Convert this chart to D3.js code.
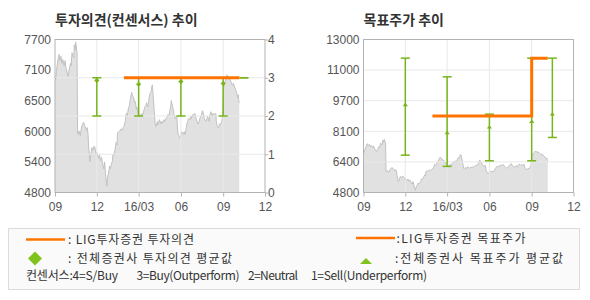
<!DOCTYPE html>
<html>
<head>
<meta charset="utf-8">
<script src="https://cdn.jsdelivr.net/npm/d3@7"></script>
<style>
  body { margin: 0; background: #fff; }
  svg text { font-family: "Liberation Sans", Arial, sans-serif; }
  .kr { font-family: "Noto Sans CJK KR", sans-serif; }
</style>
</head>
<body>
<div id="chart"></div>
<script>
// daily-ish close price
const price = [
  ["2015-09-01",6980],["2015-09-03",6950],["2015-09-04",7100],["2015-09-08",7350],["2015-09-10",7420],
  ["2015-09-11",7300],["2015-09-14",7380],["2015-09-16",7250],["2015-09-18",7320],["2015-09-21",7200],
  ["2015-09-23",7300],["2015-09-25",7150],["2015-09-28",7050],["2015-09-30",7000],["2015-10-01",7100],
  ["2015-10-05",7250],["2015-10-06",7200],["2015-10-08",7450],["2015-10-12",7350],["2015-10-13",7600],
  ["2015-10-15",7500],["2015-10-16",7650],["2015-10-19",7450],["2015-10-20",5980],["2015-10-21",5900],
  ["2015-10-23",5970],["2015-10-26",5880],["2015-10-28",6000],["2015-10-30",6080],["2015-11-02",6130],
  ["2015-11-04",6100],["2015-11-05",6050],["2015-11-09",5980],["2015-11-10",6030],["2015-11-12",5900],
  ["2015-11-13",5700],["2015-11-16",5380],["2015-11-18",5500],["2015-11-20",5650],["2015-11-23",5600],
  ["2015-11-25",5680],["2015-11-27",5650],["2015-11-30",5500],["2015-12-01",5560],["2015-12-03",5480],
  ["2015-12-04",5450],["2015-12-07",5520],["2015-12-09",5400],["2015-12-11",5470],["2015-12-14",5330],
  ["2015-12-16",5250],["2015-12-18",5380],["2015-12-20",5150],["2015-12-22",5000],["2015-12-23",4920],
  ["2015-12-24",5050],["2015-12-26",5150],["2015-12-29",5300],["2015-12-30",5250],["2016-01-04",5400],
  ["2016-01-05",5520],["2016-01-07",5500],["2016-01-11",5680],["2016-01-12",5750],["2016-01-14",5700],
  ["2016-01-15",5930],["2016-01-18",5950],["2016-01-20",5970],["2016-01-22",6000],["2016-01-25",5980],
  ["2016-01-27",6030],["2016-01-29",6050],["2016-02-01",6150],["2016-02-03",6300],["2016-02-05",6250],
  ["2016-02-08",6400],["2016-02-10",6450],["2016-02-12",6580],["2016-02-15",6700],["2016-02-16",6650],
  ["2016-02-18",6620],["2016-02-22",6500],["2016-02-23",6520],["2016-02-25",6380],["2016-02-26",6420],
  ["2016-03-01",6250],["2016-03-02",6230],["2016-03-04",6280],["2016-03-07",6250],["2016-03-08",6300],
  ["2016-03-10",6280],["2016-03-14",6400],["2016-03-15",6430],["2016-03-17",6450],["2016-03-18",6500],
  ["2016-03-21",6420],["2016-03-23",6550],["2016-03-25",6660],["2016-03-28",6700],["2016-03-30",6820],
  ["2016-03-31",6840],["2016-04-01",6700],["2016-04-04",6350],["2016-04-06",6100],["2016-04-08",6050],
  ["2016-04-11",6150],["2016-04-12",6080],["2016-04-14",6120],["2016-04-15",6180],["2016-04-19",6100],
  ["2016-04-21",6150],["2016-04-22",6120],["2016-04-25",6180],["2016-04-27",6150],["2016-04-29",6200],
  ["2016-05-02",6230],["2016-05-04",6280],["2016-05-06",6250],["2016-05-09",6400],["2016-05-10",6450],
  ["2016-05-11",6540],["2016-05-12",6500],["2016-05-16",6350],["2016-05-17",6280],["2016-05-19",6250],
  ["2016-05-20",6200],["2016-05-23",6250],["2016-05-25",5950],["2016-05-27",5880],["2016-05-30",5830],
  ["2016-06-01",5900],["2016-06-03",5950],["2016-06-07",5900],["2016-06-08",5950],["2016-06-10",5900],
  ["2016-06-13",6050],["2016-06-14",6100],["2016-06-16",6150],["2016-06-17",6200],["2016-06-21",6180],
  ["2016-06-23",6250],["2016-06-24",6200],["2016-06-27",6280],["2016-06-29",6250],["2016-07-01",6300],
  ["2016-07-04",6200],["2016-07-06",6150],["2016-07-08",6100],["2016-07-11",6150],["2016-07-12",6200],
  ["2016-07-15",6250],["2016-07-18",6350],["2016-07-19",6330],["2016-07-21",6250],["2016-07-22",6200],
  ["2016-07-25",6150],["2016-07-28",6200],["2016-07-29",6250],["2016-08-01",6150],["2016-08-03",6250],
  ["2016-08-05",6330],["2016-08-08",6250],["2016-08-10",6300],["2016-08-12",6270],["2016-08-16",6300],
  ["2016-08-17",6150],["2016-08-19",6050],["2016-08-22",6020],["2016-08-24",6100],["2016-08-26",6080],
  ["2016-08-29",6150],["2016-08-30",6200],["2016-09-01",6500],["2016-09-02",6800],["2016-09-05",6900],
  ["2016-09-07",6950],["2016-09-09",7030],["2016-09-12",6950],["2016-09-13",7000],["2016-09-19",6880],
  ["2016-09-20",6850],["2016-09-22",6830],["2016-09-23",6870],["2016-09-26",6800],["2016-09-28",6750],
  ["2016-09-30",6700],["2016-10-03",6600],["2016-10-04",6650],["2016-10-05",6540],["2016-10-06",6500]
];

// consensus (all brokers) range + average
const consDates = ["2015-12-01","2016-03-01","2016-06-01","2016-09-01","2016-10-16"];
const opinionMin = [2, 2, 2, 2, 3];
const opinionMax = [3, 3, 3, 3, 3];
const opinionAvg = [2.93, 2.83, 2.9, 2.85, null];
const targetMin = [6800, 6200, 6500, 6500, 7750];
const targetMax = [12000, 11000, 9000, 12000, 12000];
const targetAvg = [9500, 8000, 8300, 8600, 9000];

// LIG
const ligOpinion = [["2016-01-29", 3], ["2016-10-06", 3]];
const ligTarget = [["2016-01-29", 8900], ["2016-09-01", 12000], ["2016-10-06", 12000]];

const xTickDates = ["2015-09-01","2015-12-01","2016-03-01","2016-06-01","2016-09-01","2016-12-01"];
const xTickLabels = ["09","12","16/03","06","09","12"];
const leftPriceLabels = ["4800","5400","6000","6500","7100","7700"];
const rightPriceLabels = ["4800","6400","8100","9700","11000","13000"];
const opinionTicks = [0, 1, 2, 3, 4];

const W = 590, H = 300;
const plotTop = 39.5, plotBottom = 192.5;
const parse = d3.timeParse("%Y-%m-%d");
const ORANGE = "#ff7400", GREEN = "#78b41a", GRID = "#e9e9e9", FRAME = "#b3b3b3";

const svg = d3.select("#chart").append("svg").attr("width", W).attr("height", H);

function panel(opt) {
  const g = svg.append("g");
  const x = d3.scaleTime()
    .domain([parse(xTickDates[0]), parse(xTickDates[xTickDates.length - 1])])
    .range([opt.x0, opt.x1]);
  const y = d3.scaleLinear().domain(opt.domain).range([plotBottom, plotTop]);
  const [lo, hi] = opt.domain;
  const yTicks = opt.labels.map((d, i) => lo + i * (hi - lo) / (opt.labels.length - 1));
  const gridY = opt.gridScale || y;
  const gridVals = opt.gridScale ? opt.hGrid : yTicks.slice(1, -1);

  // title
  g.append("text").attr("class", "kr")
    .attr("x", opt.x0).attr("y", 25)
    .attr("font-size", 14).attr("font-weight", "bold").attr("fill", "#333")
    .text(opt.title);

  // price area
  g.append("path").datum(price)
    .attr("fill", "#e1e1e1")
    .attr("d", d3.area().x(d => x(parse(d[0]))).y0(plotBottom).y1(d => y(d[1])));
  g.append("path").datum(price)
    .attr("fill", "none").attr("stroke", "#c2c2c2").attr("stroke-width", 1)
    .attr("d", d3.line().x(d => x(parse(d[0]))).y(d => y(d[1])));

  // grid
  g.selectAll(".vg").data(xTickDates.slice(1, -1)).join("line")
    .attr("x1", d => x(parse(d))).attr("x2", d => x(parse(d)))
    .attr("y1", plotTop).attr("y2", plotBottom)
    .attr("stroke", GRID).attr("stroke-width", 1);
  g.selectAll(".hg").data(gridVals).join("line")
    .attr("x1", opt.x0).attr("x2", opt.x1)
    .attr("y1", d => gridY(d)).attr("y2", d => gridY(d))
    .attr("stroke", GRID).attr("stroke-width", 1);

  // frame
  g.append("rect")
    .attr("x", opt.x0).attr("y", plotTop)
    .attr("width", opt.x1 - opt.x0).attr("height", plotBottom - plotTop)
    .attr("fill", "none").attr("stroke", FRAME);

  // x axis
  const xa = g.append("g").attr("transform", `translate(0,${plotBottom})`)
    .call(d3.axisBottom(x).tickValues(xTickDates.map(parse))
      .tickFormat((d, i) => xTickLabels[i]).tickSize(4).tickSizeOuter(0));
  xa.select(".domain").remove();
  xa.selectAll("line").attr("stroke", FRAME);
  xa.selectAll("text").attr("font-size", 12).attr("fill", "#555").attr("dy", "0.95em")
    .attr("font-family", "Liberation Sans, Arial, sans-serif");

  // left axis
  const ya = g.append("g").attr("transform", `translate(${opt.x0},0)`)
    .call(d3.axisLeft(y).tickValues(yTicks).tickFormat((d, i) => opt.labels[i]).tickSize(0).tickPadding(4));
  ya.select(".domain").remove();
  ya.selectAll("text").attr("font-size", 12).attr("fill", "#555")
    .attr("font-family", "Liberation Sans, Arial, sans-serif");

  return { g, x, y };
}

// ---------- left: opinion ----------
const yOp = d3.scaleLinear().domain([0, 4]).range([plotBottom, plotTop]);
const L = panel({
  x0: 55, x1: 265, domain: [4800, 7700], labels: leftPriceLabels,
  title: "투자의견(컨센서스) 추이",
  hGrid: [1, 2, 3], gridScale: yOp
});

const ra = L.g.append("g").attr("transform", "translate(265,0)")
  .call(d3.axisRight(yOp).tickValues(opinionTicks).tickFormat(d3.format("d"))
    .tickSize(3).tickPadding(0));
ra.select(".domain").remove();
ra.selectAll("line").attr("stroke", FRAME);
ra.selectAll("text").attr("font-size", 12).attr("fill", "#555")
  .attr("font-family", "Liberation Sans, Arial, sans-serif");

function errorBars(p, yS, mins, maxs, avgs, marker) {
  const data = consDates.map((d, i) => ({ x: p.x(parse(d)), lo: mins[i], hi: maxs[i], avg: avgs[i] }));
  const eb = p.g.append("g").attr("stroke", GREEN).attr("stroke-width", 1.5);
  eb.selectAll(".v").data(data).join("line")
    .attr("x1", d => d.x).attr("x2", d => d.x)
    .attr("y1", d => yS(d.lo)).attr("y2", d => yS(d.hi));
  eb.selectAll(".ct").data(data).join("line")
    .attr("x1", d => d.x - 4.5).attr("x2", d => d.x + 4.5)
    .attr("y1", d => yS(d.hi)).attr("y2", d => yS(d.hi));
  eb.selectAll(".cb").data(data).join("line")
    .attr("x1", d => d.x - 4.5).attr("x2", d => d.x + 4.5)
    .attr("y1", d => yS(d.lo)).attr("y2", d => yS(d.lo));
  p.g.selectAll(".mk").data(data.filter(d => d.avg != null)).join("path")
    .attr("transform", d => `translate(${d.x},${yS(d.avg)})`)
    .attr("d", marker).attr("fill", GREEN);
}

errorBars(L, yOp, opinionMin, opinionMax, opinionAvg, "M0,-2.6L2.6,0L0,2.6L-2.6,0Z");

L.g.append("path").datum(ligOpinion)
  .attr("fill", "none").attr("stroke", ORANGE).attr("stroke-width", 3)
  .attr("d", d3.line().x(d => L.x(parse(d[0]))).y(d => yOp(d[1])));

// ---------- right: target price ----------
const R = panel({
  x0: 363.5, x1: 573.5, domain: [4800, 13000], labels: rightPriceLabels,
  title: "목표주가 추이"
});

errorBars(R, R.y, targetMin, targetMax, targetAvg, "M-2.6,1.4L0,-2L2.6,1.4Z");

R.g.append("path").datum(ligTarget)
  .attr("fill", "none").attr("stroke", ORANGE).attr("stroke-width", 3)
  .attr("d", d3.line().curve(d3.curveStepAfter).x(d => R.x(parse(d[0]))).y(d => R.y(d[1])));

// ---------- legend ----------
const lg = svg.append("g");
lg.append("rect").attr("x", 8.5).attr("y", 228.5).attr("width", 571).attr("height", 61)
  .attr("fill", "#fafafa").attr("stroke", "#dcdcdc");

const LEG_GREEN = "#80c31c";
lg.append("line").attr("x1", 26).attr("x2", 65).attr("y1", 239.5).attr("y2", 239.5)
  .attr("stroke", ORANGE).attr("stroke-width", 2.5);
lg.append("line").attr("x1", 356).attr("x2", 395).attr("y1", 238).attr("y2", 238)
  .attr("stroke", ORANGE).attr("stroke-width", 2.5);
lg.append("path").attr("transform", "translate(35,258.5)")
  .attr("d", "M0,-7L7,0L0,7L-7,0Z").attr("fill", LEG_GREEN);
lg.append("path").attr("transform", "translate(366,261)")
  .attr("d", "M-6,3L0,-3L6,3Z").attr("fill", LEG_GREEN);

// [x, y, text, width in the reference]
const legendTexts = [
  [68, 240, ": LIG투자증권 투자의견", 126],
  [68, 258.5, ": 전체증권사 투자의견 평균값", 164],
  [396.5, 238.5, ":LIG투자증권 목표주가", 129],
  [395, 258.5, ":전체증권사 목표주가 평균값", 168],
  [26, 275.5, "컨센서스:4=S/Buy", 92],
  [136.5, 275.5, "3=Buy(Outperform)", 103],
  [248, 275.5, "2=Neutral", 50],
  [311, 275.5, "1=Sell(Underperform)", 116]
];
lg.selectAll(".lt").data(legendTexts).join("text")
  .attr("class", "kr")
  .attr("x", d => d[0]).attr("y", d => d[1]).attr("dy", "0.36em")
  .attr("font-size", 12).attr("fill", "#333")
  .attr("textLength", d => d[3]).attr("lengthAdjust", "spacing")
  .text(d => d[2]);
</script>
</body>
</html>
